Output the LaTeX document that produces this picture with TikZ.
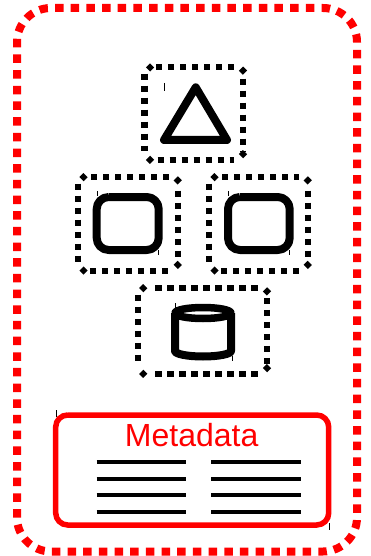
\documentclass[tikz,border=0pt]{standalone}
\usepackage{fontspec}
\setmainfont{Liberation Sans}
\definecolor{metared}{RGB}{255,0,0}
\tikzset{
  x=1pt,y=-1pt,
  outerbox/.style={draw=metared,line width=8pt,dash pattern=on 8.5pt off 7.175pt,dash phase=11.65pt},
  innerside/.style={draw=black,line width=6.2pt,dash pattern=on 6.2pt off 5.8pt},
  innercorner/.style={draw=black,line width=6pt},
  glyph/.style={draw=black,line width=8pt,line join=round},
  metabox/.style={draw=metared,line width=5.5pt},
  textline/.style={draw=black,line width=4pt},
  tick/.style={draw=black,line width=0.5pt}
}
\newcommand{\rbox}[6]{% style, l, t, r, b, radius
  \draw[#1] ({#2+#6},#3) -- ({#4-#6},#3) arc[start angle=-90,end angle=0,x radius=#6pt,y radius=-#6pt]
    -- (#4,{#5-#6}) arc[start angle=0,end angle=90,x radius=#6pt,y radius=-#6pt]
    -- ({#2+#6},#5) arc[start angle=90,end angle=180,x radius=#6pt,y radius=-#6pt]
    -- (#2,{#3+#6}) arc[start angle=180,end angle=270,x radius=#6pt,y radius=-#6pt];
}
% l t r b: dotted box, four sides with own start, one dot at each corner
\newcommand{\dbox}[8]{% l t r b topstart rightstart bottomstart leftstart
  \draw[innerside] ({#1+#5-3.1},#2) -- ({#3-9},#2);
  \draw[innerside] (#3,{#2+#6-3.1}) -- (#3,{#4-9});
  \draw[innerside] ({#1+#7-3.1},#4) -- ({#3-9},#4);
  \draw[innerside] (#1,{#2+#8-3.1}) -- (#1,{#4-9});
  \draw[innercorner] ({#1+3.5},{#2+2.5}) -- ({#1+7.5},{#2-1.5});
  \draw[innercorner] ({#3-2},{#2+1.7}) -- ({#3+2},{#2+5.7});
  \draw[innercorner] ({#3-2},{#4-3.8}) -- ({#3+2},{#4-7.8});
  \draw[innercorner] ({#1+3.5},{#4-2.2}) -- ({#1+7.5},{#4+1.8});
}
\begin{document}
\begin{tikzpicture}
\useasboundingbox (0,0) rectangle (371,556);
% outer dashed frame
\draw[outerbox] (51,8) -- (323,8) arc[start angle=-90,end angle=0,x radius=34pt,y radius=-34pt]
  -- (357,517.5) arc[start angle=0,end angle=90,x radius=34pt,y radius=-34pt]
  -- (51,551.5) arc[start angle=90,end angle=180,x radius=34pt,y radius=-34pt]
  -- (17,42) arc[start angle=180,end angle=270,x radius=34pt,y radius=-34pt];
% top box with triangle
\dbox{144.5}{67}{243}{160}{14.8}{14.7}{16.2}{9.7}
\draw[glyph] (195.7,87.3) -- (227,140) -- (164,140) -- cycle;
% middle boxes with rounded squares
\dbox{78}{176.7}{177.7}{270.7}{16.3}{17}{15}{10}
\rbox{glyph}{96.7}{197}{158.7}{250}{12}
\dbox{209}{176.7}{307.7}{270.7}{16.3}{17}{15}{10}
\rbox{glyph}{228}{197}{289.7}{250}{12}
% lower box with cylinder
\dbox{137.7}{287.7}{267}{374}{20.7}{13.3}{20.7}{10}
\draw[glyph] (175,313) -- (175,351) arc[start angle=180,end angle=360,x radius=28pt,y radius=5.5pt] -- (231,313);
\draw[glyph,line width=7.5pt] (203,313) ellipse[x radius=28pt,y radius=5.5pt];
% metadata
\rbox{metabox}{55.7}{415}{328.7}{525}{12}
\node[text=metared,font=\fontsize{32pt}{33pt}\selectfont,inner sep=0pt] (metadata) at (191.7,435) {Metadata};
\foreach \yy in {462,478.7,495,511.5}{
  \draw[textline] (96.7,\yy) -- (185.7,\yy);
  \draw[textline] (211,\yy) -- (300.7,\yy);
}
% small stray ticks
\draw[tick] (164,83) -- (164,91);
\draw[tick] (97,191) -- (97,196);
\draw[tick] (158.5,250) -- (158.5,255);
\draw[tick] (228,191) -- (228,196);
\draw[tick] (289.5,250) -- (289.5,255);
\draw[tick] (175.5,303) -- (175.5,308);
\draw[tick] (232,356) -- (232,361);
\draw[tick] (56,410) -- (56,417);
\draw[tick] (329,523) -- (329,530);
\end{tikzpicture}
\end{document}
